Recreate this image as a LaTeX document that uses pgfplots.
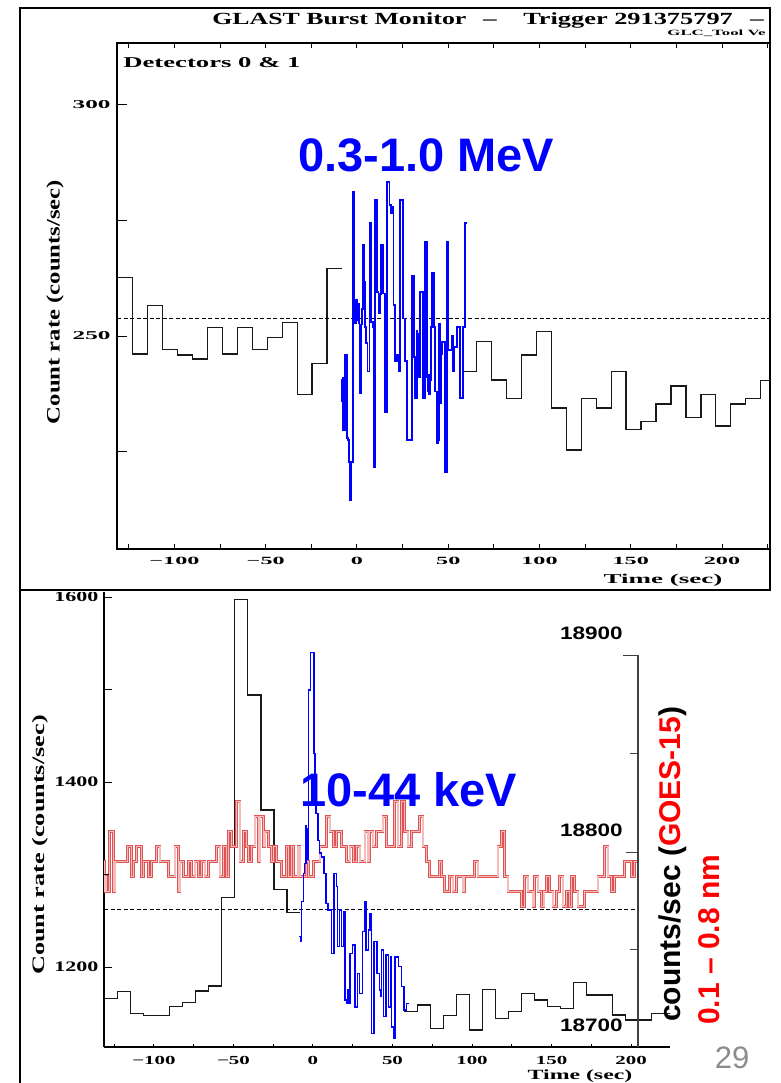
\documentclass[border=0pt]{standalone}
\usepackage{fontspec}
\setmainfont{Liberation Serif}
\newfontfamily\gbmfont{Liberation Serif}
\newfontfamily\slidefont{Liberation Sans}
\usepackage{pgfplots}
\pgfplotsset{compat=1.18}
\definecolor{gbmblue}{RGB}{0,0,255}
\definecolor{goesred}{RGB}{222,84,84}
\definecolor{goespink}{RGB}{245,188,188}
\definecolor{slidegray}{RGB}{140,140,140}
\newcommand{\HF}[1]{\gbmfont\bfseries\fontsize{#1}{#1}\selectfont}
\newcommand{\AF}[1]{\slidefont\bfseries\fontsize{#1}{#1}\selectfont}
\newcommand{\wx}[2]{\scalebox{#1}[1]{#2}}

\pgfplotsset{
  gbm/.style={scale only axis, anchor=south west, tick align=inside,
    axis line style={line width=1.3pt},
    every tick/.style={line width=1pt, black}},
  hist/.style={const plot mark left, no marks, line width=1.3pt, black!90},
}

\begin{document}
\begin{tikzpicture}
\path[use as bounding box] (0,0) rectangle (780pt,-1083pt);
\clip (0,0) rectangle (780pt,-1083pt);
\fill[white] (0,0) rectangle (780pt,-1083pt);

% ---------- lower panel: 10-44 keV
\begin{axis}[gbm, at={(104pt,-1047pt)}, width=566pt, height=455pt,
  xmin=-131.4, xmax=224.5, ymin=1113.5, ymax=1605.4,
  axis x line*=bottom, axis y line*=left,
  xtick={-100,-50,0,50,100,150,200},
  xticklabels={\wx{1.7}{−100},\wx{1.7}{−50},\wx{1.7}{0},\wx{1.7}{50},\wx{1.7}{100},\wx{1.7}{150},\wx{1.7}{200}},
  minor xtick={-125,-75,-25,25,75,125,175,225},
  major tick length=3pt, minor tick length=3pt,
  ytick={1200,1400,1600}, ytick style={draw=none},
  yticklabels={\wx{1.52}{1200},\wx{1.52}{1400},\wx{1.52}{1600}},
  xticklabel style={font=\HF{12.3}, yshift=-6pt},
  yticklabel style={font=\HF{14.5}, xshift=-2pt},
]
\addplot[hist] coordinates {(-131.4,1166.2) (-122.88,1173.3) (-114.69,1149.9) (-106.50,1147.8) (-90.11,1157.1) (-81.92,1161.8) (-73.73,1174.0) (-65.54,1179.5) (-57.34,1275.4) (-49.15,1597.5) (-40.96,1494.0) (-32.77,1369.7) (-24.58,1284.0) (-16.38,1258.7) (-8.19,1258.7)};
\addplot[hist] coordinates {(57.34,1152.0) (65.54,1158.9) (73.73,1133.7) (81.92,1147.5) (90.11,1170.5) (98.30,1131.9) (106.50,1175.9) (114.69,1144.5) (122.88,1151.7) (131.07,1171.5) (139.26,1164.3) (147.46,1157.1) (155.65,1155.3) (163.84,1183.0) (172.03,1169.7) (188.42,1148.1) (196.61,1142.7) (212.99,1149.9) (221.18,1150.0) (229.38,1150.0)};
\addplot[black, line width=0.8pt, dash pattern=on 4pt off 2.5pt] coordinates {(-131.4,1262.7) (204.4,1262.7)};
\end{axis}

% ---------- GOES-15 on its own scale
\begin{axis}[gbm, at={(104pt,-1047pt)}, width=566pt, height=455pt,
  xmin=-131.4, xmax=224.5, ymin=18701, ymax=18932, hide axis]
\addplot[const plot mark left, no marks, draw=goesred, line width=0.6pt, double=goespink, double distance=1.4pt] coordinates {(-131.4,18795.1) (-131.0,18779.8) (-130.3,18787.5) (-129.7,18779.8) (-128.1,18810.3) (-125.6,18779.8) (-124.6,18795.1) (-116.8,18802.7) (-114.0,18787.5) (-113.0,18795.1) (-110.9,18802.7) (-107.8,18787.5) (-106.7,18795.1) (-103.6,18787.5) (-101.5,18795.1) (-98.3,18802.7) (-96.2,18795.1) (-91.0,18787.5) (-86.8,18802.7) (-84.7,18779.8) (-83.6,18795.1) (-81.5,18787.5) (-78.4,18795.1) (-76.3,18787.5) (-74.2,18795.1) (-72.1,18787.5) (-70.0,18795.1) (-67.9,18787.5) (-65.8,18795.1) (-60.6,18802.7) (-58.5,18787.5) (-56.4,18802.7) (-54.3,18787.5) (-53.3,18810.3) (-51.2,18802.7) (-48.0,18825.5) (-45.9,18795.1) (-43.8,18810.3) (-41.7,18802.7) (-40.7,18795.1) (-38.6,18802.7) (-36.5,18817.9) (-34.4,18795.1) (-33.4,18817.9) (-31.2,18802.7) (-30.2,18810.3) (-28.1,18802.7) (-26.0,18795.1) (-25.0,18802.7) (-22.9,18795.1) (-19.7,18787.5) (-16.6,18802.7) (-15.5,18787.5) (-13.5,18802.7) (-12.4,18787.5) (-9.3,18802.7) (-8.2,18787.5) (-4.0,18795.1) (-3.0,18787.5) (0.2,18795.1) (4.4,18802.7) (8.6,18817.9) (10.7,18810.3) (12.8,18802.7) (14.9,18810.3) (18.0,18802.7) (21.2,18795.1) (23.3,18802.7) (25.4,18795.1) (27.5,18802.7) (29.6,18795.1) (32.7,18810.3) (34.6,18795.1) (35.6,18810.3) (37.7,18802.7) (39.8,18810.3) (44.0,18817.9) (46.1,18802.7) (51.4,18825.5) (53.5,18802.7) (55.6,18825.5) (57.7,18810.3) (59.8,18802.7) (61.9,18810.3) (67.1,18817.9) (69.2,18802.7) (71.3,18795.1) (73.4,18787.5) (79.7,18795.1) (80.7,18787.5) (82.8,18779.8) (86.0,18787.5) (88.1,18779.8) (90.2,18787.5) (94.4,18779.8) (95.4,18787.5) (101.7,18795.1) (103.8,18787.5) (116.4,18802.7) (118.5,18810.3) (120.6,18787.5) (122.7,18779.8) (131.0,18772.2) (133.1,18787.5) (135.2,18779.8) (138.4,18772.2) (139.4,18787.5) (141.5,18779.8) (143.6,18772.2) (145.3,18779.8) (146.8,18787.5) (148.9,18779.8) (151.0,18772.2) (153.1,18779.8) (155.1,18787.5) (157.2,18772.2) (159.3,18779.8) (161.4,18772.2) (162.5,18787.5) (164.6,18779.8) (166.7,18772.2) (170.9,18779.8) (179.3,18787.5) (183.4,18802.7) (185.5,18787.5) (187.6,18779.8) (189.7,18787.5) (196.0,18795.1) (200.2,18787.5) (202.3,18795.1) (204.4,18795.1)};
\end{axis}

% ---------- 10-44 keV burst, drawn over GOES
\begin{axis}[gbm, at={(104pt,-1047pt)}, width=566pt, height=455pt,
  xmin=-131.4, xmax=224.5, ymin=1113.5, ymax=1605.4, hide axis]
\addplot[const plot mark left, no marks, gbmblue, line width=1.5pt] coordinates {(-8.6,1232.8) (-8.0,1227.4) (-7.1,1270.6) (-6.1,1301.0) (-5.2,1312.0) (-4.4,1353.0) (-4.0,1316.0) (-3.6,1350.0) (-3.2,1316.0) (-2.9,1499.5) (-1.5,1539.8) (0.6,1431.0) (1.4,1388.0) (1.9,1366.0) (3.3,1337.0) (4.2,1323.0) (5.4,1319.0) (6.8,1301.0) (8.2,1268.8) (9.6,1261.6) (11.7,1214.7) (13.2,1301.0) (14.9,1286.8) (15.4,1221.9) (16.6,1261.6) (18.0,1221.9) (19.5,1260.0) (20.2,1164.3) (21.2,1160.7) (21.8,1175.0) (22.4,1160.7) (23.3,1214.7) (24.9,1223.8) (26.4,1157.0) (27.9,1193.0) (29.1,1171.5) (31.2,1238.2) (32.3,1270.6) (33.3,1218.3) (34.8,1240.0) (35.8,1258.0) (36.9,1128.2) (38.4,1227.4) (40.1,1193.0) (41.7,1175.0) (42.5,1168.0) (43.2,1218.3) (44.2,1146.3) (45.9,1213.0) (47.4,1157.0) (48.9,1211.0) (49.5,1135.4) (50.5,1122.9) (51.6,1211.0) (53.7,1200.3) (55.8,1178.7) (57.2,1153.5) (58.9,1160.7) (60.6,1160.7)};
\end{axis}

% y ticks of the lower panel (left) and the GOES scale (right)
\begin{scope}[line width=1pt]
\draw (104pt,-967pt) -- ++(8pt,0pt);
\draw (104pt,-874.5pt) -- ++(5pt,0pt);
\draw (104pt,-782pt) -- ++(8pt,0pt);
\draw (104pt,-689.5pt) -- ++(8pt,0pt);
\draw (104pt,-597pt) -- ++(8pt,0pt);
\draw[black!75, line width=1.3pt] (638pt,-1047pt) -- (638pt,-655pt);
\draw[black!75] (638pt,-655pt) -- ++(-15pt,0pt);
\draw[black!75] (638pt,-753pt) -- ++(-8pt,0pt);
\draw[black!75] (638pt,-852pt) -- ++(-12pt,0pt);
\draw[black!75] (638pt,-949pt) -- ++(-8pt,0pt);
\end{scope}

% the upper panel is pasted over the top of the lower one
\fill[white] (0,0) rectangle (780pt,-592pt);

% ---------- upper panel: 0.3-1.0 MeV
\begin{axis}[gbm, at={(117pt,-549pt)}, width=653pt, height=506pt,
  xmin=-131.5, xmax=226.3, ymin=203.9, ymax=313.4,
  xtick={-100,-50,0,50,100,150,200},
  xticklabels={\wx{2.2}{−100},\wx{2.2}{−50},\wx{2.2}{0},\wx{2.2}{50},\wx{2.2}{100},\wx{2.2}{150},\wx{2.2}{200}},
  minor xtick={-125,-75,-25,25,75,125,175,225},
  major tick length=5pt, minor tick length=5pt,
  xtick pos=both, ytick pos=left,
  ytick={250,300}, ytick style={draw=none},
  yticklabels={\wx{2.1}{250},\wx{2.1}{300}},
  xticklabel style={font=\HF{11}, yshift=-5pt},
  yticklabel style={font=\HF{12}, xshift=-3pt},
]
\addplot[hist] coordinates {(-131.5,262.6) (-122.88,246.1) (-114.69,256.6) (-106.50,247.0) (-98.30,245.9) (-90.11,245.0) (-81.92,251.9) (-73.73,246.1) (-65.54,251.9) (-57.34,247.1) (-49.15,249.7) (-40.96,252.9) (-32.77,237.4) (-24.58,244.1) (-16.38,264.6) (-8.19,264.6)};
\addplot[hist] coordinates {(57.34,242.3) (65.54,248.8) (73.73,240.5) (81.92,236.5) (90.11,245.9) (98.30,250.9) (106.50,234.4) (114.69,225.3) (122.88,236.5) (131.07,234.4) (139.26,242.3) (147.46,229.7) (155.65,231.5) (163.84,235.3) (172.03,239.2) (180.22,232.3) (188.42,237.4) (196.61,230.5) (204.80,235.3) (212.99,236.5) (221.18,240.3) (229.38,240.3)};
\addplot[black, line width=0.8pt, dash pattern=on 4pt off 2.5pt] coordinates {(-131.5,253.9) (226.3,253.9)};
\addplot[const plot mark left, no marks, gbmblue, line width=1.8pt] coordinates {(-8.95,240.5) (-8.3,236.0) (-7.9,229.7) (-7.5,241.0) (-7.2,229.7) (-6.6,245.9) (-5.6,228.0) (-5.0,227.5) (-4.6,222.8) (-4.0,214.5) (-3.5,222.8) (-2.0,281.2) (-1.5,252.7) (-1.1,257.9) (-0.7,252.7) (-0.3,257.9) (0.2,253.5) (0.6,257.0) (1.1,252.7) (1.4,237.6) (2.0,252.5) (2.6,255.8) (3.1,269.7) (3.9,261.8) (4.6,252.0) (5.0,248.5) (5.7,242.3) (6.8,274.4) (7.6,253.0) (8.6,252.0) (9.0,221.7) (9.9,279.4) (11.1,259.6) (11.8,254.9) (12.4,259.0) (13.0,269.7) (14.2,259.2) (15.3,233.6) (16.6,283.4) (17.8,278.4) (18.6,276.6) (19.4,278.0) (20.0,256.7) (20.8,244.5) (21.8,246.0) (22.7,242.3) (23.6,279.4) (25.0,253.8) (26.2,244.5) (27.6,227.5) (30.0,262.9) (31.2,245.5) (31.8,236.5) (32.7,251.0) (33.0,241.0) (33.4,250.5) (33.7,242.0) (34.0,249.5) (34.3,241.0) (34.6,259.6) (36.0,236.5) (37.3,270.4) (38.5,241.0) (38.8,238.0) (39.2,241.5) (39.6,237.5) (40.0,240.5) (40.5,252.0) (40.9,263.6) (42.2,252.0) (42.8,238.0) (43.7,226.8) (44.3,236.0) (44.7,227.5) (45.1,252.7) (45.5,240.0) (45.8,235.4) (46.2,246.0) (46.6,248.7) (48.2,220.6) (49.5,270.4) (50.0,247.0) (51.9,250.0) (52.5,242.3) (53.2,247.7) (54.6,252.0) (56.4,236.5) (57.9,252.0) (59.2,274.4) (60.4,274.4)};
\end{axis}

% y ticks of the upper panel
\begin{scope}[line width=1pt]
\draw (117pt,-105pt) -- ++(10pt,0pt);
\draw (117pt,-220.5pt) -- ++(10pt,0pt);
\draw (117pt,-336pt) -- ++(10pt,0pt);
\draw (117pt,-451.5pt) -- ++(10pt,0pt);
\end{scope}

% frames
\draw[line width=1.5pt] (20pt,-8pt) -- (770pt,-8pt) -- (770pt,-590pt) -- (20pt,-590pt) -- cycle;
\draw[line width=1.5pt] (20pt,-590pt) -- (20pt,-1083pt);

% upper panel texts
\node[anchor=base west, inner sep=0, font=\HF{17}, xscale=1.52] at (212pt,-25pt) {GLAST Burst Monitor};
\node[anchor=base, inner sep=0, font=\HF{17}, xscale=1.6] at (490pt,-25pt) {–};
\node[anchor=base west, inner sep=0, font=\HF{17}, xscale=1.55] at (523pt,-25pt) {Trigger 291375797};
\node[anchor=base, inner sep=0, font=\HF{17}, xscale=1.6] at (757pt,-25pt) {–};
\node[anchor=base west, inner sep=0, font=\HF{8}, xscale=2.1] at (667pt,-36pt) {GLC\_Tool Ve};
\node[anchor=west, inner sep=0, font=\HF{15}, xscale=1.78] at (123pt,-63pt) {Detectors 0 \& 1};
\node[rotate=90, xscale=1.3, font=\HF{19}] at (55pt,-302pt) {Count rate (counts/sec)};
\node[anchor=base, inner sep=0, font=\HF{13.5}, xscale=2.0] at (663pt,-583pt) {Time (sec)};
\node[anchor=base west, inner sep=0, text=gbmblue, font=\AF{47}] at (298pt,-171.7pt) {0.3-1.0 MeV};

% lower panel texts
\node[rotate=90, xscale=1.5, font=\HF{17.5}] at (40pt,-845pt) {Count rate (counts/sec)};
\node[anchor=base, inner sep=0, font=\HF{14}, xscale=1.7] at (580pt,-1079pt) {Time (sec)};
\node[anchor=east, inner sep=0, font=\AF{18}, xscale=1.25] at (623pt,-633pt) {18900};
\node[anchor=east, inner sep=0, font=\AF{18}, xscale=1.25] at (623pt,-830pt) {18800};
\node[anchor=east, inner sep=0, font=\AF{18}, xscale=1.25] at (623pt,-1025pt) {18700};
\node[rotate=90, anchor=west, inner sep=0, font=\AF{30}] at (673pt,-1022pt) {counts/sec (\textcolor{red}{GOES-15})};
\node[rotate=90, anchor=west, inner sep=0, text=red, font=\AF{30}] at (709pt,-1025pt) {0.1 – 0.8 nm};
\node[anchor=base west, inner sep=0, text=gbmblue, font=\AF{47}] at (300pt,-806.7pt) {10-44 keV};
\node[text=slidegray, font=\slidefont\fontsize{31}{31}\selectfont] at (732pt,-1058pt) {29};
\end{tikzpicture}
\end{document}
